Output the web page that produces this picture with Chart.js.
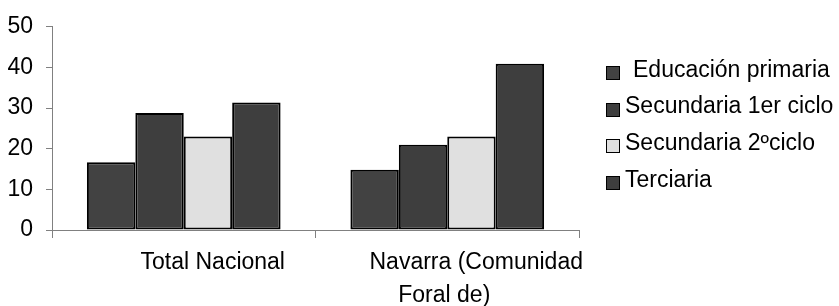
<!DOCTYPE html>
<html>
<head>
<meta charset="utf-8">
<script src="https://cdn.jsdelivr.net/npm/chart.js@4"></script>
<style>
  body { margin: 0; background: #fff; }
  #wrap { position: relative; width: 839px; height: 306px; }
  #legend { position: absolute; left: 606px; top: 51px; font: 23px 'Liberation Sans', Arial, sans-serif; color: #000; }
  .item { display: flex; align-items: center; height: 36.6px; white-space: nowrap; }
  .box { width: 12px; height: 12px; border: 1px solid #000; margin-right: 5px; flex: none; position: relative; top: 4px; }
</style>
</head>
<body>
<div id="wrap">
  <canvas id="chart" width="839" height="306"></canvas>
  <div id="legend"></div>
</div>
<script>
const categories = [['Total Nacional'], ['Navarra (Comunidad', 'Foral de)          ']];
const seriesNames = ['Educación primaria', 'Secundaria 1er ciclo', 'Secundaria 2ºciclo', 'Terciaria'];
const primaria = [16.7, 14.8];
const secundaria1 = [28.8, 21.0];
const secundaria2 = [23.0, 23.0];
const terciaria = [31.4, 40.9];
const yTicks = [0, 10, 20, 30, 40, 50];

const fills = ['#424242', '#3e3e3e', '#e0e0e0', '#3e3e3e'];
const font = { family: "'Liberation Sans', Arial, sans-serif", size: 23 };

const chart = new Chart(document.getElementById('chart'), {
    type: 'bar',
    data: {
        labels: categories,
        datasets: [primaria, secundaria1, secundaria2, terciaria].map((d, i) => ({
            label: seriesNames[i],
            data: d,
            backgroundColor: fills[i],
            borderColor: '#000',
            borderWidth: 2,
            borderSkipped: false
        }))
    },
    options: {
        responsive: false,
        animation: false,
        layout: { padding: { left: 0, top: 22, right: 260, bottom: 0 } },
        datasets: { bar: { categoryPercentage: 0.735, barPercentage: 1 } },
        plugins: { legend: { display: false }, tooltip: { enabled: false } },
        scales: {
            x: {
                afterFit: s => { s.height = 76; },
                grid: { offset: true, drawOnChartArea: false, tickLength: 8, color: '#808080' },
                border: { color: '#808080' },
                ticks: { color: '#000', font: { ...font, lineHeight: 1.45 }, padding: 8, labelOffset: 29, maxRotation: 0, autoSkip: false }
            },
            y: {
                min: 0, max: 50,
                afterFit: s => { s.width = 52; },
                afterBuildTicks: s => { s.ticks = yTicks.map(v => ({ value: v })); },
                grid: { drawOnChartArea: false, tickLength: 6, color: '#808080' },
                border: { color: '#808080' },
                ticks: { color: '#000', font: font, padding: 13 }
            }
        }
    }
});

// legend as html, built from the datasets
const legend = document.getElementById('legend');
chart.data.datasets.forEach((ds, i) => {
    const row = document.createElement('div');
    row.className = 'item';
    const box = document.createElement('span');
    box.className = 'box';
    box.style.background = ds.backgroundColor;
    const txt = document.createElement('span');
    txt.textContent = ds.label;
    if (i === 0) txt.style.marginLeft = '8px';
    row.appendChild(box);
    row.appendChild(txt);
    legend.appendChild(row);
});
</script>
</body>
</html>
